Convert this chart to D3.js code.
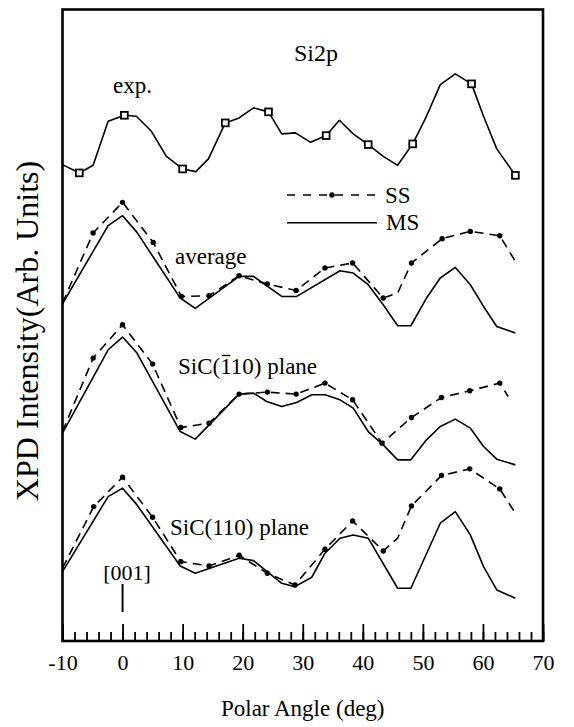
<!DOCTYPE html>
<html>
<head>
<meta charset="utf-8">
<script src="https://cdn.jsdelivr.net/npm/d3@7"></script>
<style>
  body { margin: 0; background: #fff; }
  svg text { font-family: "Liberation Serif", "Times New Roman", serif; fill: #000; }
</style>
</head>
<body>
<div id="chart"></div>
<script>
// [polar angle (deg), intensity (arb. units, curves are offset)]
var expData = [[-10, 476], [-7.2, 467.7], [-4.9, 475.3], [-2.4, 519.3], [0.3, 525.3], [2.3, 524.3],
  [4.8, 509.3], [7.3, 484.3], [10, 471.7], [12.2, 469], [14.3, 481.7], [17.1, 517.7],
  [19.4, 522.7], [21.8, 532.7], [24.3, 528.7], [26.5, 506.7], [28.8, 507.7], [31.3, 498.3],
  [33.9, 505], [36.1, 520.3], [38.4, 506.7], [40.9, 496], [43.4, 484.3], [45.8, 475.3],
  [48.3, 496.7], [50.6, 524.3], [52.9, 556], [55.4, 566.7], [58.1, 556.7], [60.1, 524.3],
  [62.3, 491.7], [65.4, 465.3]];
// angles where the exp. curve carries a square marker
var expMarks = [-7.2, 0.3, 10, 17.1, 24.3, 33.9, 40.9, 48.3, 58.1, 65.4];

var avgMS = [[-10, 337], [-2.4, 415], [0, 425], [2.4, 408.3], [9.6, 342.7], [12.1, 332.3],
  [19.4, 364.3], [21.8, 364.3], [26.5, 344.3], [29, 344.3], [36.2, 370], [38.4, 367.7],
  [40.9, 356], [43.4, 336], [45.8, 315], [48, 315], [50.6, 342.7], [52.9, 362.7],
  [55.4, 373.3], [57.9, 356], [60.1, 334.3], [62.3, 314.3], [65.4, 307.7]];
// third value: 1 = dot drawn at this point
var avgSS = [[-10, 337.7, 0], [-4.9, 407.7, 1], [0, 438.3, 1], [5.1, 398.3, 1], [9.8, 344.3, 1],
  [14.4, 345, 1], [19.4, 365, 1], [24.1, 356.7, 1], [28.9, 350.3, 1], [33.7, 372.7, 1],
  [38.3, 377.7, 1], [43.4, 342.7, 1], [45.8, 347.7, 0], [48.1, 377.7, 1], [53.2, 402, 1],
  [57.9, 409.3, 1], [62.8, 405, 1], [65.4, 379.3, 0]];

var p1m10MS = [[-10, 207.7], [-2.4, 291], [0, 303.7], [2.4, 287.7], [9.6, 209.3], [12.1, 201.7],
  [19.4, 246.7], [21.8, 247.7], [24, 239.3], [26.5, 234.3], [29, 238.3], [31.5, 246],
  [33.7, 246], [36.2, 241], [38.4, 232.7], [40.9, 209.3], [43.4, 196], [45.8, 181],
  [48, 181], [50.6, 201], [52.9, 214.3], [55.4, 221.7], [57.9, 212.7], [60.1, 194.3],
  [62.3, 181.7], [65.4, 176]];
var p1m10SS = [[-10, 209.3, 0], [-4.9, 282.7, 1], [0, 316, 1], [5, 276.7, 1], [9.7, 213.3, 1],
  [14.4, 217.7, 1], [19.4, 246.7, 1], [24.1, 248.7, 1], [28.9, 246.7, 1], [33.7, 257.7, 1],
  [38.3, 241, 1], [43.2, 197.7, 1], [48.1, 223.3, 1], [53.1, 243.3, 1], [57.8, 250, 1],
  [62.8, 257.7, 1], [64.2, 244.3, 0]];

var p110MS = [[-10, 69.3], [-2.4, 144.3], [0, 152.7], [2.4, 136], [9.6, 75], [12.1, 67.7],
  [19.4, 82.7], [21.8, 80.3], [26.5, 57.7], [28.7, 54.3], [31.5, 63.7], [33.7, 87.7],
  [36.2, 102.7], [38.4, 106], [40.9, 102.7], [45.8, 52.7], [48, 52.7], [52.9, 117.7],
  [55.4, 129.3], [57.9, 106], [60.1, 74.3], [62.3, 51], [65.4, 42.7]];
var p110SS = [[-10, 72.7, 0], [-4.8, 134.3, 1], [0, 163.7, 1], [5, 123.7, 1], [9.7, 79.3, 1],
  [14.4, 75, 1], [19.4, 85.7, 1], [24.1, 67.7, 1], [28.7, 56, 1], [33.7, 91.7, 1],
  [38.3, 120, 1], [43.4, 90, 1], [45.8, 102.7, 0], [48.1, 135, 1], [53.1, 165.3, 1],
  [57.8, 172, 1], [62.8, 152, 1], [65.4, 127.7, 0]];

var xTicks = [-10, 0, 10, 20, 30, 40, 50, 60, 70];
var xMinorTicks = d3.range(-10, 71, 2);

var W = 574, H = 727;
var margin = {top: 9.5, right: 31, bottom: 86, left: 62.5};
var width = W - margin.left - margin.right,
    height = H - margin.top - margin.bottom;

var svg = d3.select("#chart").append("svg")
  .attr("width", W).attr("height", H);

var g = svg.append("g")
  .attr("transform", "translate(" + margin.left + "," + margin.top + ")");

var x = d3.scaleLinear().domain([-10, 70]).range([0, width]);
var y = d3.scaleLinear().domain([0, 631]).range([height, 0]);

var line = d3.line().x(function(d) { return x(d[0]); }).y(function(d) { return y(d[1]); });

// minor ticks
g.append("g")
  .attr("transform", "translate(0," + height + ")")
  .call(d3.axisBottom(x).tickValues(xMinorTicks).tickSize(-9).tickFormat(""))
  .call(function(a) { a.select(".domain").remove(); a.selectAll("line").attr("stroke-width", 1.8); });

// major ticks + labels
g.append("g")
  .attr("transform", "translate(0," + height + ")")
  .call(d3.axisBottom(x).tickValues(xTicks).tickSize(-17).tickPadding(13)
    .tickFormat(function(d) { return String(d); }))
  .call(function(a) {
    a.attr("font-family", null);
    a.select(".domain").remove();
    a.selectAll("line").attr("stroke-width", 1.8);
    a.selectAll("text").attr("font-size", 22).attr("fill", "#000");
  });

// frame
g.append("rect")
  .attr("x", 0).attr("y", 0).attr("width", width).attr("height", height)
  .attr("fill", "none").attr("stroke", "#000").attr("stroke-width", 2.6);

// curves
function drawMS(data) {
  g.append("path").datum(data).attr("d", line)
    .attr("fill", "none").attr("stroke", "#000").attr("stroke-width", 1.6)
    .attr("stroke-linejoin", "round");
}
function drawSS(data) {
  g.append("path").datum(data).attr("d", line)
    .attr("fill", "none").attr("stroke", "#000").attr("stroke-width", 1.6)
    .attr("stroke-dasharray", "9,6");
  g.append("g").selectAll("circle")
    .data(data.filter(function(d) { return d[2] === 1; }))
    .enter().append("circle")
    .attr("cx", function(d) { return x(d[0]); })
    .attr("cy", function(d) { return y(d[1]); })
    .attr("r", 2.7).attr("fill", "#000");
}

drawMS(expData);
g.append("g").selectAll("rect")
  .data(expData.filter(function(d) { return expMarks.indexOf(d[0]) >= 0; }))
  .enter().append("rect")
  .attr("x", function(d) { return x(d[0]) - 3.4; })
  .attr("y", function(d) { return y(d[1]) - 3.4; })
  .attr("width", 6.8).attr("height", 6.8)
  .attr("fill", "#fff").attr("stroke", "#000").attr("stroke-width", 1.8);

drawMS(avgMS); drawSS(avgSS);
drawMS(p1m10MS); drawSS(p1m10SS);
drawMS(p110MS); drawSS(p110SS);

// [001] marker
g.append("line")
  .attr("x1", x(0)).attr("x2", x(0))
  .attr("y1", 584 - margin.top).attr("y2", 612 - margin.top)
  .attr("stroke", "#000").attr("stroke-width", 2);

// legend
var leg = svg.append("g");
leg.append("line").attr("x1", 287).attr("x2", 377).attr("y1", 195).attr("y2", 195)
  .attr("stroke", "#000").attr("stroke-width", 1.6).attr("stroke-dasharray", "8,8");
leg.append("circle").attr("cx", 332).attr("cy", 195).attr("r", 2.7).attr("fill", "#000");
leg.append("line").attr("x1", 287).attr("x2", 377).attr("y1", 222.7).attr("y2", 222.7)
  .attr("stroke", "#000").attr("stroke-width", 1.6);
leg.append("text").attr("x", 385).attr("y", 203).attr("font-size", 23).text("SS");
leg.append("text").attr("x", 386).attr("y", 230).attr("font-size", 23).text("MS");

// annotations
svg.append("text").attr("x", 316).attr("y", 61).attr("text-anchor", "middle")
  .attr("font-size", 24).text("Si2p");
svg.append("text").attr("x", 113).attr("y", 93).attr("font-size", 23).text("exp.");
svg.append("text").attr("x", 175).attr("y", 264).attr("font-size", 23).text("average");

// SiC(1-bar 1 0): bar drawn over the first "1"
var planeLbl = svg.append("text").attr("x", 178).attr("y", 374).attr("font-size", 23)
  .text("SiC(110) plane");
var p0 = planeLbl.node().getStartPositionOfChar(4),
    p1 = planeLbl.node().getEndPositionOfChar(4);
svg.append("line")
  .attr("x1", p0.x + 1.5).attr("x2", p1.x - 0.5)
  .attr("y1", 374 - 18.5).attr("y2", 374 - 18.5)
  .attr("stroke", "#000").attr("stroke-width", 1.4);

svg.append("text").attr("x", 170).attr("y", 535).attr("font-size", 23).text("SiC(110) plane");
svg.append("text").attr("x", 127).attr("y", 580).attr("text-anchor", "middle")
  .attr("font-size", 22).text("[001]");

// axis titles
svg.append("text").attr("x", margin.left + width / 2).attr("y", 716)
  .attr("text-anchor", "middle").attr("font-size", 23).text("Polar Angle (deg)");
svg.append("text")
  .attr("transform", "translate(38,331) rotate(-90)")
  .attr("text-anchor", "middle").attr("font-size", 32).text("XPD Intensity(Arb. Units)");
</script>
</body>
</html>
